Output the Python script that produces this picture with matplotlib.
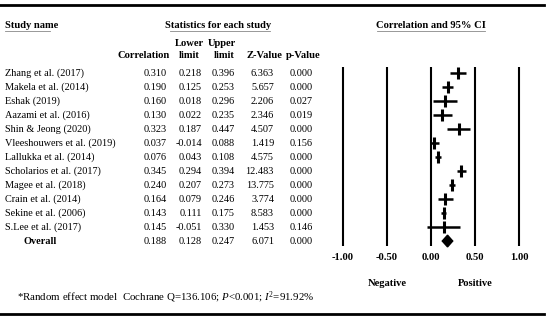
import matplotlib
matplotlib.use("Agg")
import matplotlib.pyplot as plt
from matplotlib.transforms import blended_transform_factory
from matplotlib.patches import Polygon
from matplotlib.lines import Line2D

plt.rcParams['font.family'] = ['Liberation Serif', 'DejaVu Serif']
plt.rcParams['mathtext.fontset'] = 'custom'
plt.rcParams['mathtext.rm'] = 'Liberation Serif'
plt.rcParams['mathtext.it'] = 'Liberation Serif:italic'

studies = ["Zhang et al. (2017)", "Makela et al. (2014)", "Eshak (2019)", "Aazami et al. (2016)",
           "Shin & Jeong (2020)", "Vleeshouwers et al. (2019)", "Lallukka et al. (2014)",
           "Scholarios et al. (2017)", "Magee et al. (2018)", "Crain et al. (2014)",
           "Sekine et al. (2006)", "S.Lee et al. (2017)"]
corr = [0.310, 0.190, 0.160, 0.130, 0.323, 0.037, 0.076, 0.345, 0.240, 0.164, 0.143, 0.145]
lower = [0.218, 0.125, 0.018, 0.022, 0.187, -0.014, 0.043, 0.294, 0.207, 0.079, 0.111, -0.051]
upper = [0.396, 0.253, 0.296, 0.235, 0.447, 0.088, 0.108, 0.394, 0.273, 0.246, 0.175, 0.330]
zval = [6.363, 5.657, 2.206, 2.346, 4.507, 1.419, 4.575, 12.483, 13.775, 3.774, 8.583, 1.453]
pval = [0.000, 0.000, 0.027, 0.019, 0.000, 0.156, 0.000, 0.000, 0.000, 0.000, 0.000, 0.146]
overall = {"corr": 0.188, "lower": 0.128, "upper": 0.247, "z": 6.071, "p": 0.000}
xticks = [-1.00, -0.50, 0.00, 0.50, 1.00]

W, H = 550, 321
fig = plt.figure(figsize=(W / 100, H / 100), dpi=100)

def fx(px):
    return px / W

def fy(py):
    return 1 - py / H

# forest axes: pixel x 330..532, y 60..250
ax = fig.add_axes([fx(330), fy(250), fx(532) - fx(330), fy(60) - fy(250)])
ax.set_xlim(-1.148, 1.148)
ax.set_ylim(12.64, -0.93)
ax.axis('off')

n = len(studies)
for xv in xticks:
    ax.plot([xv, xv], [-0.43, 12.36], color='black', lw=1.5, solid_capstyle='butt')
for i in range(n):
    ax.plot([lower[i], upper[i]], [i, i], color='black', lw=1.8, solid_capstyle='butt')
    ax.plot([corr[i]], [i], marker='|', markersize=8, mew=2.2, color='black')
ov = n
dia = Polygon([[overall["lower"], ov], [overall["corr"], ov - 0.42],
               [overall["upper"], ov], [overall["corr"], ov + 0.42]],
              closed=True, facecolor='black', edgecolor='black')
ax.add_patch(dia)
for xv in xticks:
    ax.text(xv, 13.2, f"{xv:.2f}", ha='center', va='center', fontsize=7.6, fontweight='bold')
ax.text(-0.5, 15.05, "Negative", ha='center', va='center', fontsize=7.6, fontweight='bold')
ax.text(0.5, 15.05, "Positive", ha='center', va='center', fontsize=7.6, fontweight='bold')

tr = blended_transform_factory(fig.transFigure, ax.transData)
fs = 7.4
hfs = 7.6
for i in range(n):
    fig.text(fx(5), i, studies[i], transform=tr, ha='left', va='center', fontsize=fs)
    fig.text(fx(167), i, f"{corr[i]:.3f}", transform=tr, ha='right', va='center', fontsize=fs)
    fig.text(fx(202), i, f"{lower[i]:.3f}", transform=tr, ha='right', va='center', fontsize=fs)
    fig.text(fx(235), i, f"{upper[i]:.3f}", transform=tr, ha='right', va='center', fontsize=fs)
    fig.text(fx(274), i, f"{zval[i]:.3f}", transform=tr, ha='right', va='center', fontsize=fs)
    fig.text(fx(313), i, f"{pval[i]:.3f}", transform=tr, ha='right', va='center', fontsize=fs)
fig.text(fx(40), ov, "Overall", transform=tr, ha='center', va='center', fontsize=fs, fontweight='bold')
fig.text(fx(167), ov, f"{overall['corr']:.3f}", transform=tr, ha='right', va='center', fontsize=fs)
fig.text(fx(202), ov, f"{overall['lower']:.3f}", transform=tr, ha='right', va='center', fontsize=fs)
fig.text(fx(235), ov, f"{overall['upper']:.3f}", transform=tr, ha='right', va='center', fontsize=fs)
fig.text(fx(274), ov, f"{overall['z']:.3f}", transform=tr, ha='right', va='center', fontsize=fs)
fig.text(fx(313), ov, f"{overall['p']:.3f}", transform=tr, ha='right', va='center', fontsize=fs)

# headers
fig.text(fx(5), fy(25), "Study name", ha='left', va='center', fontsize=hfs, fontweight='bold')
fig.text(fx(218), fy(25), "Statistics for each study", ha='center', va='center', fontsize=hfs, fontweight='bold')
fig.text(fx(431), fy(25), "Correlation and 95% CI", ha='center', va='center', fontsize=hfs, fontweight='bold')
fig.text(fx(170), fy(55), "Correlation", ha='right', va='center', fontsize=hfs, fontweight='bold')
fig.text(fx(189), fy(44), "Lower", ha='center', va='center', fontsize=hfs, fontweight='bold')
fig.text(fx(189), fy(55), "limit", ha='center', va='center', fontsize=hfs, fontweight='bold')
fig.text(fx(222), fy(44), "Upper", ha='center', va='center', fontsize=hfs, fontweight='bold')
fig.text(fx(224), fy(55), "limit", ha='center', va='center', fontsize=hfs, fontweight='bold')
fig.text(fx(264), fy(55), "Z-Value", ha='center', va='center', fontsize=hfs, fontweight='bold')
fig.text(fx(303), fy(55), "p-Value", ha='center', va='center', fontsize=hfs, fontweight='bold')

# underlines
for x0, x1 in [(5, 50), (170, 270), (377, 485)]:
    fig.add_artist(Line2D([fx(x0), fx(x1)], [fy(31), fy(31)], color='#888888', lw=0.6))

# footnote
fig.text(fx(17), fy(297), "*Random effect model  Cochrane Q=136.106; $P$<0.001; $I^2$=91.92%",
         ha='left', va='center', fontsize=7.85)

# rules
for yy in [5, 314]:
    fig.add_artist(Line2D([fx(0), fx(544)], [fy(yy), fy(yy)], color='black', lw=2))

fig.savefig("out.png", dpi=100)
